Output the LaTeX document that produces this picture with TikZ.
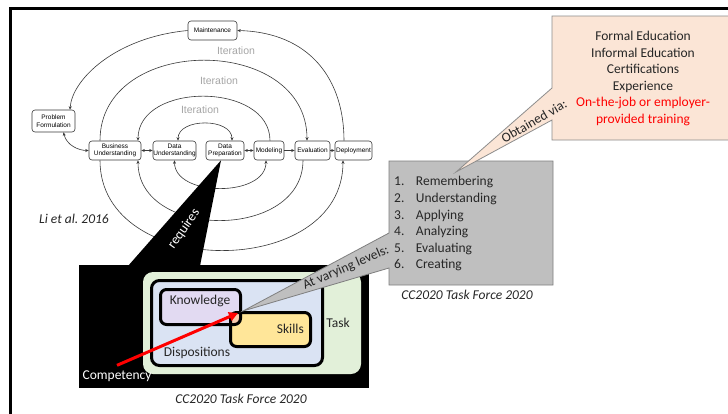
\documentclass[tikz,border=0pt]{standalone}
\usepackage{fontspec}
\setmainfont{Carlito}
\newfontfamily\cyclefont{Liberation Sans}
\usetikzlibrary{arrows.meta,calc}
\definecolor{peach}{HTML}{FBE5D6}
\definecolor{peachline}{HTML}{8C8C8C}
\definecolor{graybox}{HTML}{BFBFBF}
\definecolor{grayline}{HTML}{7F7F7F}
\definecolor{taskgreen}{HTML}{E2F0D9}
\definecolor{dispblue}{HTML}{DAE3F3}
\definecolor{knowpurple}{HTML}{E2DAF2}
\definecolor{skillyellow}{HTML}{FFE699}
\definecolor{overlapc}{HTML}{F8CBAD}
\definecolor{textdark}{HTML}{262626}
\definecolor{itergray}{HTML}{A6A6A6}
\definecolor{cycleline}{HTML}{3A3A3A}
\begin{document}
\begin{tikzpicture}[x=1pt,y=-1pt,
  stage/.style={draw=cycleline, line width=0.6pt, rounded corners=3pt, fill=white,
    font=\cyclefont\fontsize{6.5}{7.5}\selectfont, align=center, inner sep=0pt},
  flow/.style={draw=cycleline, line width=0.6pt, -{Stealth[length=3.5pt,width=3pt]}},
  flowboth/.style={draw=cycleline, line width=0.6pt, {Stealth[length=3.5pt,width=3pt]}-{Stealth[length=3.5pt,width=3pt]}},
  iter/.style={text=itergray, font=\cyclefont\fontsize{10.5}{12}\selectfont, inner sep=0pt},
  lbl/.style={font=\fontsize{13.5}{16.6}\selectfont, text=textdark, inner sep=0pt},
  captext/.style={font=\fontsize{13.5}{16.6}\selectfont\itshape, text=textdark, inner sep=0pt},
  innerbox/.style={line width=3pt, rounded corners=6pt}
]
\useasboundingbox (0,0) rectangle (728,413);
\clip (0,0) rectangle (728,413);
\fill[white] (0,0) rectangle (728,413);

% frame
\draw[line width=2.7pt] (10.3,420) -- (10.3,8.7) -- (740,8.7);

% cycle nodes
\node[stage, minimum width=49pt, minimum height=19pt] (maint) at (212.5,30.5) {Maintenance};
\node[stage, minimum width=43pt, minimum height=22pt] (pf) at (53.5,121) {Problem\\Formulation};
\node[stage, minimum width=52pt, minimum height=19pt] (bu) at (115,150.5) {Business\\Understanding};
\node[stage, minimum width=43pt, minimum height=19pt] (du) at (174.5,150.5) {Data\\Understanding};
\node[stage, minimum width=38pt, minimum height=19pt] (dp) at (225,150.5) {Data\\Preparation};
\node[stage, minimum width=30pt, minimum height=19pt] (mod) at (269,150.5) {Modeling};
\node[stage, minimum width=35pt, minimum height=19pt] (eval) at (312.5,150.5) {Evaluation};
\node[stage, minimum width=37pt, minimum height=19pt] (dep) at (353.5,150.5) {Deployment};

% iteration labels
\node[iter] (it1) at (236,51) {Iteration};
\node[iter] (it2) at (219,81) {Iteration};
\node[iter] (it3) at (200,110) {Iteration};

% arcs
\draw[flowboth] ([xshift=3.5pt]du.north) .. controls +(0,-23) and +(0,-23) .. ([xshift=7pt]dp.north);
\draw[flowboth] (du.south) .. controls +(0,37) and +(0,37) .. ([xshift=-3pt]mod.south);
\draw[flow] ([xshift=1pt]mod.north) .. controls +(0,-59) and +(0,-59) .. ([xshift=23pt]bu.north);
\draw[flow] ([xshift=-9.5pt]eval.south) .. controls +(0,80) and +(0,80) .. ([xshift=23pt]bu.south);
\draw[flow] ([xshift=-15pt]bu.north) .. controls +(0,-107) and +(0,-107) .. ([xshift=-5.5pt]eval.north);
\draw[flow] ([xshift=-15pt]bu.south) .. controls +(0,120) and +(0,120) .. ([xshift=-10.5pt]dep.south);
\draw[flow] ([xshift=-9.5pt]dep.north) .. controls +(0,-61) and +(73,2) .. (maint.east);
\draw[flow] (maint.west) .. controls +(-73,7) and +(2,-30) .. ([xshift=16.5pt]pf.north);
\draw[flowboth] ([xshift=10pt]pf.south) .. controls +(3,13) and +(-10,0) .. (bu.west);
\draw[flowboth] (bu.east) -- (du.west);
\draw[flowboth] (dp.east) -- (mod.west);
\draw[flow] (mod.east) -- (eval.west);
\draw[flow] (eval.east) -- (dep.west);

\node[captext] (li) at (74,219) {Li et al.\ 2016};

% black "requires" callout
\fill[black] (79,265) rectangle (369,388);
\fill[black] ([xshift=-4pt]dp.south) -- (128,266) -- (200,266) -- cycle;
\node[lbl, text=white, rotate=55] (req) at (184,229) {requires};

% task / dispositions / knowledge / skills
\fill[taskgreen, rounded corners=10pt] (143,272) rectangle (361,374);
\node[lbl] (task) at (338,323) {Task};
\filldraw[fill=dispblue, draw=black, line width=3pt, rounded corners=8pt] (151.5,280.5) rectangle (322.5,365.5);
\fill[knowpurple, rounded corners=6pt] (160.5,289.5) rectangle (240.5,324.5);
\fill[skillyellow, rounded corners=6pt] (230.5,312.5) rectangle (310.5,346.5);
\begin{scope}
  \clip[rounded corners=6pt] (160.5,289.5) rectangle (240.5,324.5);
  \fill[overlapc, rounded corners=6pt] (230.5,312.5) rectangle (310.5,346.5);
\end{scope}
\draw[innerbox] (160.5,289.5) rectangle (240.5,324.5);
\draw[innerbox] (230.5,312.5) rectangle (310.5,346.5);
\node[lbl] (know) at (200,301) {Knowledge};
\node[lbl, anchor=east] (skills) at (304,329) {Skills};
\node[lbl] (disp) at (197,353) {Dispositions};
\node[lbl, text=white] (comp) at (117,376) {Competency};
\coordinate (core) at (238,313);
\draw[red, line width=3pt, -{Triangle[length=9pt,width=9pt]}] ([yshift=5pt]comp.north) -- (core);

% gray levels box with callout
\coordinate (levtip) at (243,311);
\filldraw[fill=graybox, draw=grayline, line width=0.8pt]
  (389,161) -- (553,161) -- (553,285) -- (389,285) -- (389,268) -- (levtip) -- (389,233) -- cycle;
\node[lbl, rotate=23.5] (vary) at (346,268) {At varying levels:};
\node[lbl, anchor=west, align=left] (levels) at (394,224) {%
  \renewcommand{\arraystretch}{1}%
  \begin{tabular}{@{}l@{\hspace{11.5pt}}l@{}}
  1. & Remembering\\
  2. & Understanding\\
  3. & Applying\\
  4. & Analyzing\\
  5. & Evaluating\\
  6. & Creating
  \end{tabular}};
\node[captext] (cap1) at (467,295) {CC2020 Task Force 2020};
\node[captext] (cap2) at (241,399) {CC2020 Task Force 2020};

% peach sources box with callout
\coordinate (srctip) at (456,172);
\filldraw[fill=peach, draw=peachline, line width=0.8pt]
  (552,16) -- (740,16) -- (740,140) -- (552,140) -- (552,120) -- (srctip) -- (552,88) -- cycle;
\node[lbl, align=center] (sources) at (643,78.5) {Formal Education\\Informal Education\\Certifications\\Experience\\\textcolor{red}{On-the-job or employer-}\\\textcolor{red}{provided training}};
\node[lbl, rotate=30] (obt) at (534,121) {Obtained via:};
\end{tikzpicture}
\end{document}
